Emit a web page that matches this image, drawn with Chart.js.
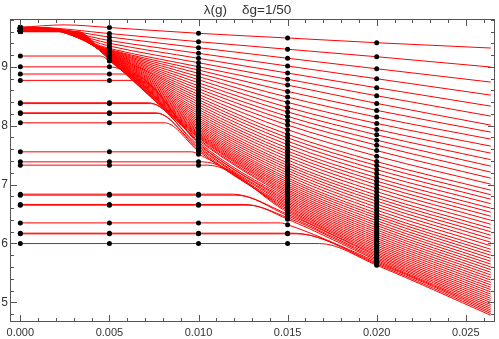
<!DOCTYPE html>
<html>
<head>
<meta charset="utf-8">
<script src="https://cdn.jsdelivr.net/npm/chart.js@4.4.1/dist/chart.umd.min.js"></script>
<style>
  html, body { margin: 0; padding: 0; background: #fff; }
  #plot { display: block; }
</style>
</head>
<body>
<canvas id="plot" width="499" height="339"></canvas>
<script>
// lambda(g) levels, sorted top to bottom (index 0 = highest curve)
// dots are sampled at gCols, every curve runs out to gEnd
const gCols = [0, 0.005, 0.01, 0.015, 0.02];
const gEnd = 0.0264;

const xTicks = [0, 0.005, 0.01, 0.015, 0.02, 0.025];
const yTicks = [5, 6, 7, 8, 9];

// level at g = 0
const startLevel = [
  9.672, 9.670, 9.670, 9.670, 9.670, 9.670, 9.650, 9.650, 9.650, 9.650,
  9.650, 9.650, 9.650, 9.650, 9.650, 9.650, 9.621, 9.621, 9.621, 9.621,
  9.621, 9.621, 9.621, 9.621, 9.621, 9.621, 9.621, 9.621, 9.600, 9.600,
  9.600, 9.600, 9.600, 9.600, 9.600, 9.600, 9.600, 9.600, 9.600, 9.600,
  9.184, 9.000, 8.878, 8.770, 8.390, 8.376, 8.219, 8.209, 8.049, 7.556,
  7.386, 7.330, 6.837, 6.820, 6.662, 6.650, 6.349, 6.174, 6.163, 5.998
];

// g where each curve leaves its flat level
const bendG = [
  0.0025, 0.0008, 0.00086, 0.00093, 0.00099, 0.00105, 0.00112, 0.00118, 0.00124, 0.0013,
  0.00137, 0.00143, 0.00149, 0.00156, 0.00162, 0.00168, 0.00175, 0.00181, 0.00187, 0.00193,
  0.002, 0.00206, 0.00212, 0.00219, 0.00225, 0.00231, 0.00238, 0.00244, 0.0025, 0.00256,
  0.00263, 0.00269, 0.00275, 0.00282, 0.00288, 0.00294, 0.003, 0.00307, 0.00313, 0.0032,
  0.0045, 0.005, 0.0062, 0.0066, 0.0072, 0.0073, 0.0076, 0.0077, 0.0081, 0.0096,
  0.0102, 0.0105, 0.0119, 0.0121, 0.0126, 0.0128, 0.0146, 0.0153, 0.0155, 0.0168
];

// the top curve rises a little before it turns down
const bendY = startLevel.map((v, i) => (i === 0 ? 9.713 : v));

const y005 = [
  9.668, 9.566, 9.507, 9.447, 9.400, 9.354, 9.313, 9.294, 9.286, 9.277,
  9.269, 9.261, 9.253, 9.246, 9.238, 9.231, 9.225, 9.218, 9.211, 9.205,
  9.199, 9.193, 9.187, 9.182, 9.177, 9.172, 9.167, 9.163, 9.158, 9.154,
  9.150, 9.146, 9.143, 9.140, 9.136, 9.134, 9.131, 9.128, 9.126, 9.123,
  9.099, 9.000, 8.878, 8.770, 8.390, 8.376, 8.219, 8.209, 8.049, 7.556,
  7.386, 7.330, 6.837, 6.820, 6.662, 6.650, 6.349, 6.174, 6.163, 5.998
];

const y010 = [
  9.570, 9.427, 9.325, 9.230, 9.145, 9.070, 9.002, 8.946, 8.890, 8.835,
  8.781, 8.728, 8.677, 8.628, 8.580, 8.532, 8.486, 8.442, 8.400, 8.357,
  8.316, 8.277, 8.240, 8.204, 8.168, 8.134, 8.102, 8.072, 8.041, 8.012,
  7.985, 7.959, 7.934, 7.910, 7.888, 7.867, 7.849, 7.830, 7.813, 7.798,
  7.772, 7.747, 7.721, 7.696, 7.670, 7.645, 7.619, 7.594, 7.568, 7.517,
  7.386, 7.330, 6.837, 6.820, 6.662, 6.650, 6.349, 6.174, 6.163, 5.998
];

const y015 = [
  9.490, 9.299, 9.146, 9.014, 8.895, 8.789, 8.690, 8.582, 8.486, 8.396,
  8.311, 8.234, 8.158, 8.085, 8.010, 7.932, 7.853, 7.794, 7.736, 7.678,
  7.620, 7.568, 7.518, 7.468, 7.418, 7.367, 7.325, 7.282, 7.240, 7.197,
  7.156, 7.114, 7.079, 7.044, 7.010, 6.977, 6.947, 6.915, 6.886, 6.858,
  6.828, 6.799, 6.770, 6.742, 6.714, 6.687, 6.661, 6.634, 6.610, 6.582,
  6.556, 6.531, 6.497, 6.471, 6.437, 6.412, 6.318, 6.174, 6.163, 5.998
];

const y020 = [
  9.410, 9.172, 8.968, 8.798, 8.645, 8.509, 8.379, 8.260, 8.146, 8.039,
  7.937, 7.845, 7.755, 7.670, 7.577, 7.483, 7.390, 7.322, 7.253, 7.185,
  7.117, 7.058, 6.998, 6.939, 6.879, 6.820, 6.769, 6.718, 6.667, 6.616,
  6.565, 6.514, 6.471, 6.429, 6.386, 6.344, 6.305, 6.265, 6.228, 6.191,
  6.155, 6.119, 6.085, 6.051, 6.019, 5.986, 5.956, 5.925, 5.896, 5.867,
  5.840, 5.813, 5.788, 5.762, 5.738, 5.714, 5.692, 5.670, 5.650, 5.629
];

const yEnd = [
  9.320, 8.997, 8.741, 8.520, 8.333, 8.163, 8.010, 7.891, 7.772, 7.653,
  7.534, 7.423, 7.313, 7.211, 7.109, 7.007, 6.905, 6.828, 6.752, 6.675,
  6.599, 6.530, 6.462, 6.394, 6.326, 6.258, 6.199, 6.139, 6.080, 6.020,
  5.961, 5.901, 5.850, 5.799, 5.748, 5.697, 5.649, 5.602, 5.556, 5.510,
  5.466, 5.422, 5.379, 5.337, 5.296, 5.255, 5.216, 5.177, 5.139, 5.102,
  5.066, 5.031, 4.996, 4.962, 4.930, 4.898, 4.867, 4.837, 4.808, 4.779
];

const TEXT = '#333';
const tickFont = { family: 'Liberation Sans', size: 11 };

// Mathematica style frame: box with inward ticks on all four sides
const frameTicks = {
  id: 'frameTicks',
  afterDraw(chart) {
    const { ctx, chartArea: a, scales: { x, y } } = chart;
    ctx.save();
    ctx.strokeStyle = '#555';
    ctx.lineWidth = 1;
    ctx.strokeRect(a.left + 0.5, a.top + 0.5, a.right - a.left - 1, a.bottom - a.top - 1);
    ctx.beginPath();
    for (let i = 0; i <= 26; i++) {
      const len = i % 5 === 0 ? 7 : 4;
      const px = Math.round(x.getPixelForValue(i / 1000)) + 0.5;
      ctx.moveTo(px, a.bottom); ctx.lineTo(px, a.bottom - len);
      ctx.moveTo(px, a.top); ctx.lineTo(px, a.top + len);
    }
    for (let i = 24; i <= 49; i++) {
      const len = i % 5 === 0 ? 7 : 4;
      const py = Math.round(y.getPixelForValue(i / 5)) + 0.5;
      ctx.moveTo(a.left, py); ctx.lineTo(a.left + len, py);
      ctx.moveTo(a.right, py); ctx.lineTo(a.right - len, py);
    }
    ctx.stroke();
    ctx.restore();
  }
};

const dots = [];
const curves = [];
for (let i = 0; i < startLevel.length; i++) {
  const cols = [startLevel[i], y005[i], y010[i], y015[i], y020[i]];
  gCols.forEach((g, j) => dots.push({ x: g, y: cols[j] }));

  const pts = [];
  gCols.forEach((g, j) => { if (g < bendG[i]) pts.push({ x: g, y: cols[j] }); });
  pts.push({ x: bendG[i], y: bendY[i] });
  gCols.forEach((g, j) => { if (g > bendG[i]) pts.push({ x: g, y: cols[j] }); });
  pts.push({ x: gEnd, y: yEnd[i] });

  curves.push({
    data: pts,
    showLine: true,
    pointRadius: 0,
    borderColor: '#ff0000',
    borderWidth: 1,
    cubicInterpolationMode: 'monotone',
    order: 1,
  });
}

new Chart(document.getElementById('plot').getContext('2d'), {
  type: 'scatter',
  data: {
    datasets: [{
      data: dots,
      pointRadius: 2.5,
      pointBackgroundColor: '#000',
      pointBorderWidth: 0,
      showLine: false,
      order: 0,
    }, ...curves]
  },
  options: {
    responsive: false,
    devicePixelRatio: 1,
    animation: false,
    layout: { padding: { left: 0, right: 4, top: 0, bottom: 0 } },
    plugins: {
      legend: { display: false },
      tooltip: { enabled: false },
      title: {
        display: true,
        text: 'λ(g)    δg=1/50',
        color: TEXT,
        font: { family: 'Liberation Sans', size: 13.5, weight: 'normal' },
        padding: { top: 2, bottom: 0.8 },
      },
    },
    scales: {
      x: {
        type: 'linear',
        min: -0.00058,
        max: 0.02664,
        afterBuildTicks: s => { s.ticks = xTicks.map(v => ({ value: v })); },
        afterFit: s => { s.height = 17; },
        grid: { display: false, drawTicks: false },
        border: { display: false },
        ticks: {
          callback: v => v.toFixed(3),
          color: TEXT, font: tickFont, padding: 4,
          autoSkip: false, maxRotation: 0,
        },
      },
      y: {
        type: 'linear',
        min: 4.665,
        max: 9.813,
        afterBuildTicks: s => { s.ticks = yTicks.map(v => ({ value: v })); },
        afterFit: s => { s.width = 10; },
        grid: { display: false, drawTicks: false },
        border: { display: false },
        ticks: {
          callback: v => String(v),
          color: TEXT, font: { family: 'Liberation Sans', size: 12 }, padding: 2,
        },
      },
    },
  },
  plugins: [frameTicks],
});
</script>
</body>
</html>
